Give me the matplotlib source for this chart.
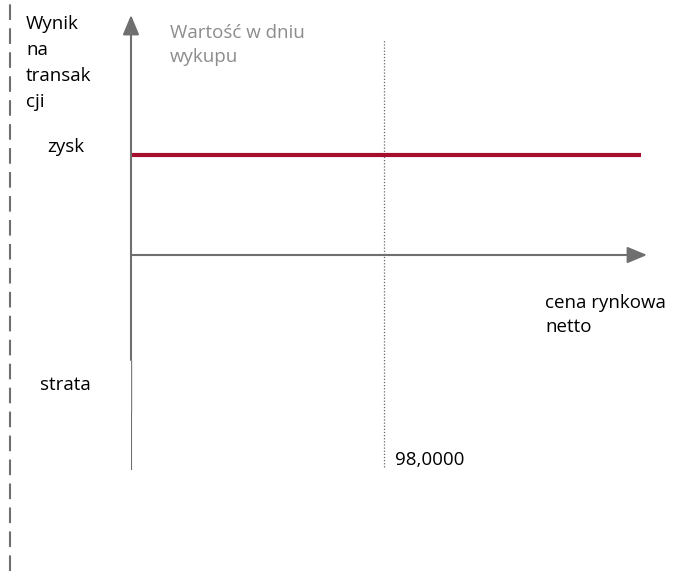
import matplotlib
matplotlib.use("Agg")
import matplotlib.pyplot as plt
from matplotlib.lines import Line2D

# ---- data ----
price_range = [90.0, 106.1]      # span of the profit line (net market price)
profit_level = [1.0, 1.0]        # constant profit ("zysk")
strike_price = 98.0              # redemption value
strike_label = "98,0000"
y_label_lines = ["Wynik", "na", "transak", "cji"]
profit_text = "zysk"
loss_text = "strata"
x_label_lines = ["cena rynkowa", "netto"]
redemption_lines = ["Wartość w dniu", "wykupu"]

W, H = 696, 571
fig = plt.figure(figsize=(W / 100, H / 100), dpi=100)
plt.rcParams['font.family'] = ['Open Sans', 'DejaVu Sans']

# axes area in pixels: x 131..647, y 15..470
L, R, T, B = 131, 647, 15, 470
ax = fig.add_axes([L / W, (H - B) / H, (R - L) / W, (B - T) / H])
ax.set_xlim(90.0, 106.3)
ax.set_ylim(-2.15, 2.4)
ax.axis('off')

axis_col = '#6f6f6f'

# profit line
ax.plot(price_range, profit_level, color='#a50f2d', lw=3.0, solid_capstyle='butt', zorder=3)

# horizontal axis arrow
ax.annotate('', xy=(106.3, 0), xytext=(90.0, 0),
            arrowprops=dict(arrowstyle='-|>,head_length=1.2,head_width=0.5',
                            mutation_scale=10, color=axis_col, lw=1.5,
                            shrinkA=0, shrinkB=0), annotation_clip=False)

# vertical axis: bottom part, thin gap, upper part with arrow
ax.plot([90.0, 90.0], [-2.15, -1.57], color=axis_col, lw=1.5, solid_capstyle='butt')
ax.plot([90.0, 90.0], [-1.57, -1.05], color='#808080', lw=1.0, solid_capstyle='butt')
ax.annotate('', xy=(90.0, 2.4), xytext=(90.0, -1.05),
            arrowprops=dict(arrowstyle='-|>,head_length=1.2,head_width=0.5',
                            mutation_scale=10, color=axis_col, lw=1.5,
                            shrinkA=0, shrinkB=0), annotation_clip=False)

# strike dotted line
ax.plot([strike_price, strike_price], [-2.12, 2.15], color='#666666', lw=0.9,
        linestyle=(0, (1, 1.5)))

# left dashed border
fig.add_artist(Line2D([9.5 / W, 9.5 / W], [0, 1], transform=fig.transFigure,
                      color='#6f6f6f', lw=1.5, linestyle=(0, (7.5, 4))))

def ftext(px, py, s, **kw):
    fig.text(px / W, 1 - py / H, s, va='baseline', ha='left', **kw)

fs = 13.5
for i, line in enumerate(y_label_lines):
    ftext(26, 29 + i * 26, line, fontsize=fs, color='black')
ftext(47, 152, profit_text, fontsize=fs, color='black')
ftext(40, 390, loss_text, fontsize=fs, color='black')
for i, line in enumerate(redemption_lines):
    ftext(170, 38 + i * 24, line, fontsize=fs, color='#8c8c8c')
for i, line in enumerate(x_label_lines):
    ftext(545, 308 + i * 24, line, fontsize=fs, color='black')
ftext(395, 465, strike_label, fontsize=fs, color='black')

fig.savefig('out.png', dpi=100)
